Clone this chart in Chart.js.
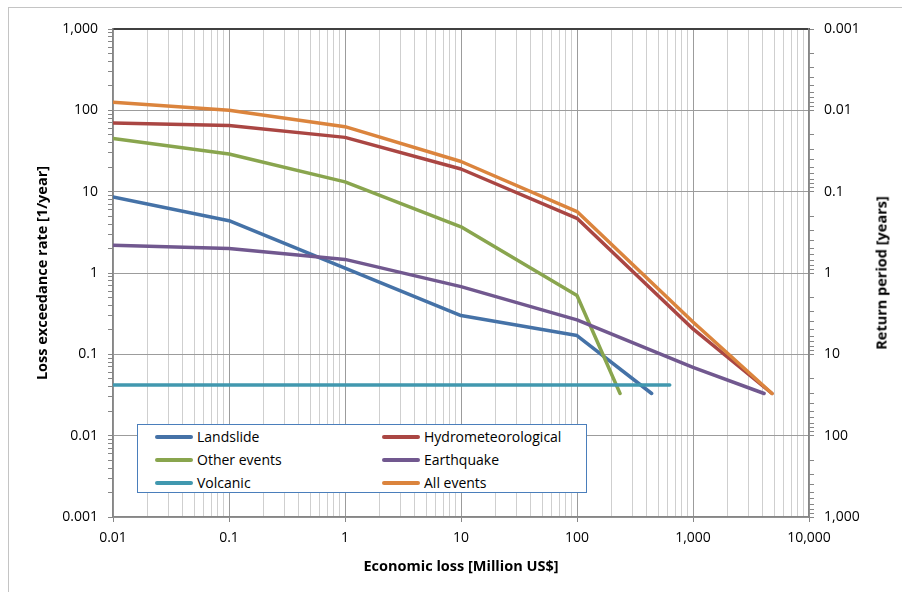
<!DOCTYPE html>
<html>
<head>
<meta charset="utf-8">
<script src="https://cdn.jsdelivr.net/npm/chart.js@4.4.1/dist/chart.umd.min.js"></script>
<style>
  html, body { margin: 0; padding: 0; background: #fff; }
  #wrap { position: relative; width: 902px; height: 592px; overflow: hidden; }
  #frame { position: absolute; left: 8px; top: 7px; width: 1000px; height: 1000px;
           border: 1px solid #c4c4c4; box-sizing: border-box; }
  #chart { position: absolute; left: 0; top: 0; }
  #legend { position: absolute; left: 137px; top: 424px; width: 450px; height: 69px;
            box-sizing: border-box; border: 1px solid #4a7ebb; background: #fff;
            display: grid; grid-template-columns: 227px 1fr; grid-auto-rows: 23px;
            padding: 0 0 0 17px; font: 14px 'Open Sans', sans-serif; color: #000; }
  .item { display: flex; align-items: center; white-space: nowrap; }
  .swatch { width: 38px; height: 4px; border-radius: 2px; margin-right: 4px; flex: none; }
  #rightTitle { position: absolute; left: 881px; top: 273px; white-space: nowrap;
                transform: translate(-50%, -50%) rotate(-90deg);
                font: bold 14.5px 'Open Sans', sans-serif; color: #000; }
</style>
</head>
<body>
<div id="wrap">
  <div id="frame"></div>
  <canvas id="chart" width="902" height="592"></canvas>
  <div id="legend"></div>
  <div id="rightTitle">Return period [years]</div>
</div>
<script>
// Loss exceedance curves: economic loss (million US$) vs. annual exceedance rate
const landslideLoss = [0.01, 0.1, 1, 10, 100, 440];
const landslideRate = [8.6, 4.4, 1.15, 0.30, 0.17, 0.033];

const hydroLoss = [0.01, 0.1, 1, 10, 100, 1000, 4800];
const hydroRate = [70, 65, 46.5, 19, 4.7, 0.205, 0.033];

const otherLoss = [0.01, 0.1, 1, 10, 100, 235];
const otherRate = [45, 29, 13.2, 3.7, 0.53, 0.033];

const quakeLoss = [0.01, 0.1, 1, 10, 100, 1000, 4100];
const quakeRate = [2.2, 2.0, 1.47, 0.68, 0.265, 0.069, 0.033];

const volcanicLoss = [0.01, 630];
const volcanicRate = [0.042, 0.042];

const allLoss = [0.01, 0.1, 1, 10, 100, 1000, 4800];
const allRate = [126, 100, 63, 23.5, 5.7, 0.25, 0.033];

// Decade tick values for each axis
const lossDecades = [0.01, 0.1, 1, 10, 100, 1000, 10000];
const rateDecades = [0.001, 0.01, 0.1, 1, 10, 100, 1000];
const periodDecades = [0.001, 0.01, 0.1, 1, 10, 100, 1000];

const seriesNames = ['Landslide', 'Hydrometeorological', 'Other events', 'Earthquake', 'Volcanic', 'All events'];
const seriesColors = ['#4572A7', '#AA4643', '#89A54E', '#71588F', '#4198AF', '#DB843D'];

const MAJOR_GRID = '#9c9c9c';
const MINOR_GRID = '#cfcfcf';
const AXIS = '#868686';
const FONT = 'Open Sans';

function isDecade(v) {
  const l = Math.log10(v);
  return Math.abs(l - Math.round(l)) < 1e-9;
}
function fmt(v) {
  return v >= 1 ? Math.round(v).toLocaleString('en-US') : String(Number(v.toPrecision(6)));
}
// decades plus the 2..9 multiples between them
function logTicks(decades) {
  const out = [];
  for (let i = 0; i < decades.length - 1; i++) {
    for (let m = 1; m < 10; m++) out.push({ value: Number((m * decades[i]).toPrecision(6)) });
  }
  out.push({ value: decades[decades.length - 1] });
  return out;
}
const pts = (xs, ys) => xs.map((x, i) => ({ x, y: ys[i] }));

const seriesData = [
  pts(landslideLoss, landslideRate),
  pts(hydroLoss, hydroRate),
  pts(otherLoss, otherRate),
  pts(quakeLoss, quakeRate),
  pts(volcanicLoss, volcanicRate),
  pts(allLoss, allRate)
];

const datasets = seriesNames.map((name, i) => ({
  label: name,
  data: seriesData[i],
  borderColor: seriesColors[i],
  backgroundColor: seriesColors[i],
  borderWidth: 3.5,
  borderCapStyle: 'round',
  borderJoinStyle: 'round',
  pointRadius: 0,
  tension: 0,
  fill: false,
  xAxisID: 'x',
  yAxisID: 'y',
  order: seriesNames.length - i
}));

const tickFont = { family: FONT, size: 14 };
const titleFont = { family: FONT, size: 14.5, weight: 'bold' };
const decadeLabel = v => (isDecade(v) ? fmt(v) : '');

const chart = new Chart(document.getElementById('chart'), {
  type: 'line',
  data: { datasets },
  options: {
    responsive: false,
    animation: false,
    events: [],
    layout: { padding: { left: 30, right: 9, top: 29, bottom: 12 } },
    plugins: { legend: { display: false }, tooltip: { enabled: false } },
    scales: {
      x: {
        type: 'logarithmic', position: 'bottom', min: 0.01, max: 10000,
        afterBuildTicks: s => { s.ticks = logTicks(lossDecades); },
        afterFit: s => { s.height = 63; },
        grid: {
          color: c => (c.tick && isDecade(c.tick.value) ? MAJOR_GRID : MINOR_GRID),
          tickColor: c => (c.tick && isDecade(c.tick.value) ? AXIS : 'rgba(0,0,0,0)'),
          tickLength: 5, lineWidth: 1
        },
        border: { color: AXIS, width: 1.5 },
        ticks: { autoSkip: false, maxRotation: 0, padding: 8, color: '#000', font: tickFont, callback: decadeLabel },
        title: { display: true, text: 'Economic loss [Million US$]', color: '#000', font: titleFont, padding: { top: 4, bottom: 4 } }
      },
      xTop: {
        type: 'logarithmic', position: 'top', min: 0.01, max: 10000,
        afterFit: s => { s.height = 0; },
        grid: { display: false },
        border: { color: '#404040', width: 2 },
        ticks: { display: false }
      },
      y: {
        type: 'logarithmic', position: 'left', min: 0.001, max: 1000,
        afterBuildTicks: s => { s.ticks = logTicks(rateDecades); },
        afterFit: s => { s.width = 83; },
        grid: {
          color: c => (c.tick && isDecade(c.tick.value) ? MAJOR_GRID : 'rgba(0,0,0,0)'),
          tickColor: AXIS, tickLength: 5, lineWidth: 1
        },
        border: { color: AXIS, width: 1.5 },
        ticks: { autoSkip: false, padding: 10, color: '#000', font: tickFont, callback: decadeLabel },
        title: { display: true, text: 'Loss exceedance rate [1/year]', color: '#000', font: titleFont, padding: { top: 4, bottom: 4 } }
      },
      y2: {
        type: 'logarithmic', position: 'right', reverse: true, min: 0.001, max: 1000,
        afterBuildTicks: s => { s.ticks = logTicks(periodDecades); },
        afterFit: s => { s.width = 84; },
        grid: { drawOnChartArea: false, tickColor: AXIS, tickLength: 5 },
        border: { color: AXIS, width: 1.5 },
        ticks: { autoSkip: false, padding: 10, color: '#000', font: tickFont, callback: decadeLabel }
      }
    }
  }
});

// Two-column legend box inside the plot, built from the chart's datasets
const legendEl = document.getElementById('legend');
chart.data.datasets.forEach(ds => {
  const item = document.createElement('div');
  item.className = 'item';
  const sw = document.createElement('span');
  sw.className = 'swatch';
  sw.style.background = ds.borderColor;
  const txt = document.createElement('span');
  txt.textContent = ds.label;
  item.appendChild(sw);
  item.appendChild(txt);
  legendEl.appendChild(item);
});
</script>
</body>
</html>
